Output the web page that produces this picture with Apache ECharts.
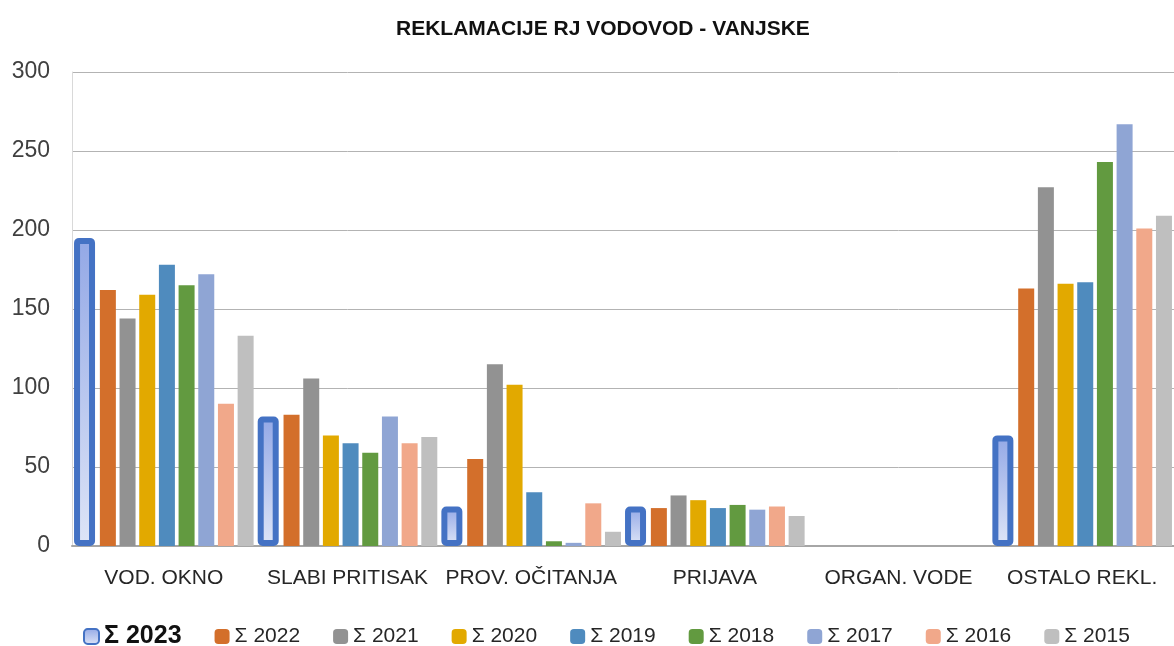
<!DOCTYPE html>
<html>
<head>
<meta charset="utf-8">
<title>Reklamacije RJ Vodovod - vanjske</title>
<script src="https://cdn.jsdelivr.net/npm/echarts@6/dist/echarts.min.js"></script>
<style>
  html, body { margin: 0; padding: 0; background: #fff; }
  #chart { width: 1174px; height: 646px; }
</style>
</head>
<body>
<div id="chart"></div>
<script>
var categories = ['VOD. OKNO', 'SLABI PRITISAK', 'PROV. OČITANJA', 'PRIJAVA', 'ORGAN. VODE', 'OSTALO REKL.']
var yTicks = [0, 50, 100, 150, 200, 250, 300]

var s2023 = [195, 82, 25, 25, 0, 70]
var s2022 = [162, 83, 55, 24, 0, 163]
var s2021 = [144, 106, 115, 32, 0, 227]
var s2020 = [159, 70, 102, 29, 0, 166]
var s2019 = [178, 65, 34, 24, 0, 167]
var s2018 = [165, 59, 3, 26, 0, 243]
var s2017 = [172, 82, 2, 23, 0, 267]
var s2016 = [90, 65, 27, 25, 0, 201]
var s2015 = [133, 69, 9, 19, 0, 209]

var years = ['Σ 2022', 'Σ 2021', 'Σ 2020', 'Σ 2019', 'Σ 2018', 'Σ 2017', 'Σ 2016', 'Σ 2015']
var yearData = [s2022, s2021, s2020, s2019, s2018, s2017, s2016, s2015]
var colorList = ['#D36F2B', '#929292', '#E2A900', '#4F8BBE', '#629A40', '#8FA5D4', '#F1A88A', '#BFBFBF']

var font = 'Liberation Sans'
var myChart = echarts.init(document.getElementById('chart'))

var series = [{
  name: 'Σ 2023',
  type: 'bar',
  barWidth: 21,
  barGap: '23%',
  itemStyle: {
    color: new echarts.graphic.LinearGradient(0, 0, 0, 1, [
      { offset: 0, color: '#93A8E6' },
      { offset: 1, color: '#DEE5F7' }
    ]),
    borderColor: '#4472C4',
    borderWidth: 6,
    borderRadius: 2
  },
  // zero values must not leave a border stub
  data: s2023.map(function (v) {
    return v === 0 ? { value: 0, itemStyle: { borderWidth: 0 } } : v
  })
}]

years.forEach(function (name, i) {
  series.push({
    name: name,
    type: 'bar',
    barWidth: 16,
    barGap: '23%',
    itemStyle: { color: colorList[i] },
    data: yearData[i]
  })
})

var legendData = [{ name: 'Σ 2023', textStyle: { fontWeight: 'bold', fontSize: 25, color: '#111' } }]
  .concat(years.map(function (n) { return { name: n } }))

var option = {
  animation: false,
  textStyle: { fontFamily: font },
  title: {
    text: 'REKLAMACIJE RJ VODOVOD - VANJSKE',
    left: 391,
    top: 14,
    textStyle: { fontFamily: font, fontSize: 21, fontWeight: 'bold', color: '#111' }
  },
  legend: {
    data: legendData,
    left: 78,
    top: 619,
    itemWidth: 15,
    itemHeight: 15,
    itemGap: 33,
    icon: 'roundRect',
    textStyle: { fontFamily: font, fontSize: 21, color: '#262626' }
  },
  grid: {
    left: 72,
    top: 72,
    width: 1110,
    bottom: 100,
    containLabel: false
  },
  xAxis: {
    type: 'category',
    data: categories,
    axisTick: { show: false },
    axisLine: { lineStyle: { color: '#a6a6a6', width: 2 } },
    axisLabel: {
      interval: 0,
      margin: 22,
      fontSize: 21,
      color: '#262626',
      fontFamily: font
    }
  },
  yAxis: {
    type: 'value',
    min: yTicks[0],
    max: yTicks[yTicks.length - 1],
    interval: 50,
    axisLine: { show: true, lineStyle: { color: '#d9d9d9', width: 1 } },
    axisTick: { show: false },
    splitLine: { lineStyle: { color: '#b3b3b3', width: 1 } },
    axisLabel: {
      margin: 22,
      fontSize: 23,
      color: '#404040',
      fontFamily: font
    }
  },
  series: series
}

myChart.setOption(option)
window.addEventListener('resize', function () {
  myChart.resize()
})
</script>
</body>
</html>
